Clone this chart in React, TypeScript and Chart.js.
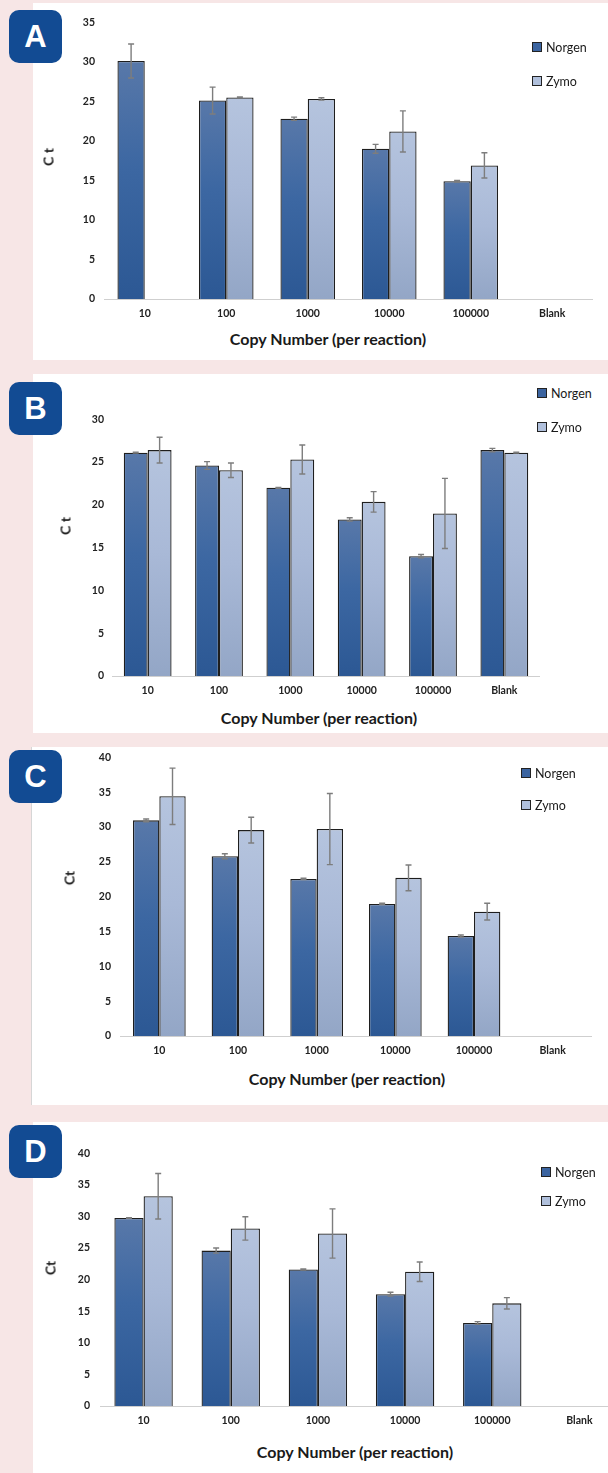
import React, { useEffect, useRef } from 'react';
import { Chart, registerables } from 'chart.js';

Chart.register(...registerables);

// ---------- data ----------
const categories = ['10', '100', '1000', '10000', '100000', 'Blank'];
const seriesNames = ['Norgen', 'Zymo'];

const aNorgen = [30.1, 25.1, 22.8, 19.0, 14.9, null];
const aNorgenErr = [2.15, 1.7, 0.2, 0.56, 0.1, null];
const aZymo = [null, 25.5, 25.3, 21.2, 16.9, null];
const aZymoErr = [null, 0.05, 0.15, 2.6, 1.6, null];

const bNorgen = [26.1, 24.6, 22.0, 18.3, 14.0, 26.4];
const bNorgenErr = [0.05, 0.45, 0.05, 0.2, 0.2, 0.2];
const bZymo = [26.4, 24.05, 25.3, 20.35, 19.0, 26.1];
const bZymoErr = [1.5, 0.85, 1.7, 1.2, 4.1, 0.05];

const cNorgen = [30.95, 25.8, 22.55, 18.95, 14.35, null];
const cNorgenErr = [0.2, 0.35, 0.1, 0.1, 0.15, null];
const cZymo = [34.4, 29.55, 29.7, 22.7, 17.85, null];
const cZymoErr = [4.05, 1.85, 5.1, 1.85, 1.2, null];

const dNorgen = [29.75, 24.6, 21.6, 17.7, 13.15, null];
const dNorgenErr = [0.05, 0.4, 0.1, 0.3, 0.2, null];
const dZymo = [33.2, 28.1, 27.3, 21.25, 16.25, null];
const dZymoErr = [3.6, 1.85, 3.9, 1.55, 0.9, null];

const yMaxA = 35;
const yMaxB = 30;
const yMaxC = 40;
const yMaxD = 40;

const xTitle = 'Copy Number (per reaction)';

// ---------- styles ----------
const PINK = '#f7e6e6';
const BADGE = '#124b93';
const NORGEN_TOP = '#5878a9';
const NORGEN_BOTTOM = '#2c5894';
const ZYMO_TOP = '#b5c4de';
const ZYMO_BOTTOM = '#93a6c6';
const FONT = 'Lato, "Open Sans", sans-serif';

const errorBarPlugin = {
  id: 'errorBars',
  afterDatasetsDraw(chart: any) {
    const ctx = chart.ctx;
    const y = chart.scales.y;
    ctx.save();
    ctx.strokeStyle = '#7d7d7d';
    ctx.lineWidth = 1.4;
    chart.data.datasets.forEach((ds: any, i: number) => {
      const meta = chart.getDatasetMeta(i);
      const errs = ds.errors || [];
      meta.data.forEach((el: any, j: number) => {
        const v = ds.data[j];
        const e = errs[j];
        if (v == null || e == null) return;
        const x = el.x;
        const top = y.getPixelForValue(v + e);
        const bot = y.getPixelForValue(v - e);
        const cap = 3;
        ctx.beginPath();
        ctx.moveTo(x, top);
        ctx.lineTo(x, bot);
        ctx.moveTo(x - cap, top);
        ctx.lineTo(x + cap, top);
        ctx.moveTo(x - cap, bot);
        ctx.lineTo(x + cap, bot);
        ctx.stroke();
      });
    });
    ctx.restore();
  },
};

function gradientFill(topColor: string, bottomColor: string) {
  return (c: any) => {
    const chart = c.chart;
    const y = chart.scales && chart.scales.y;
    const v = c.raw;
    if (c.type !== 'data' || !y || !chart.chartArea || v == null) return bottomColor;
    const t = y.getPixelForValue(v);
    const b = y.getPixelForValue(0);
    if (!isFinite(t) || !isFinite(b) || t === b) return bottomColor;
    const g = chart.ctx.createLinearGradient(0, t, 0, b);
    g.addColorStop(0, topColor);
    g.addColorStop(0.45, bottomColor === NORGEN_BOTTOM ? '#3c67a2' : '#a9b9d7');
    g.addColorStop(1, bottomColor);
    return g;
  };
}

type PanelProps = {
  letter: string;
  panel: { left: number; top: number; bottom: number; borderLeft?: boolean };
  area: { left: number; right: number; top: number; bottom: number };
  yMax: number;
  norgen: (number | null)[];
  norgenErr: (number | null)[];
  zymo: (number | null)[];
  zymoErr: (number | null)[];
  yPad: number;
  legend: { x: number; y1: number; y2: number };
  xt: { x: number; y: number };
  yt: { x: number; y: number; text: string };
  badgeTop: number;
};

function Panel(p: PanelProps) {
  const ref = useRef<HTMLCanvasElement | null>(null);
  const T = 10;
  const H = 24;
  const cTop = p.area.top - T;
  const cHeight = p.area.bottom + H - cTop;
  const cWidth = p.area.right;

  useEffect(() => {
    if (!ref.current) return;
    const tickFont = { family: FONT, size: 10.5, weight: 'bold' as const };
    const chart = new Chart(ref.current, {
      type: 'bar',
      data: {
        labels: categories,
        datasets: [
          {
            label: seriesNames[0],
            data: p.norgen,
            errors: p.norgenErr,
            backgroundColor: gradientFill(NORGEN_TOP, NORGEN_BOTTOM),
            borderColor: '#1e1e1e',
            borderWidth: 1.3,
          } as any,
          {
            label: seriesNames[1],
            data: p.zymo,
            errors: p.zymoErr,
            backgroundColor: gradientFill(ZYMO_TOP, ZYMO_BOTTOM),
            borderColor: '#1e1e1e',
            borderWidth: 1.3,
          } as any,
        ],
      },
      options: {
        responsive: false,
        maintainAspectRatio: false,
        animation: false,
        layout: { padding: { top: T, right: 0, left: 0, bottom: 0 } },
        datasets: { bar: { categoryPercentage: 0.67, barPercentage: 1 } },
        plugins: { legend: { display: false }, tooltip: { enabled: false } },
        scales: {
          x: {
            grid: { display: false, drawTicks: false },
            border: { display: true, color: '#cfcfcf', width: 1 },
            ticks: { padding: 8, font: tickFont, color: '#222222', maxRotation: 0 },
            afterFit: (s: any) => {
              s.height = H;
            },
          },
          y: {
            min: 0,
            max: p.yMax,
            grid: { display: false, drawTicks: false },
            border: { display: false },
            ticks: { stepSize: 5, padding: p.yPad, font: tickFont, color: '#222222' },
            afterFit: (s: any) => {
              s.width = p.area.left;
            },
          },
        },
      },
      plugins: [errorBarPlugin],
    } as any);
    return () => chart.destroy();
  }, []);

  const legendItem = (y: number, name: string, color: string) => (
    <div
      style={{
        position: 'absolute',
        left: p.legend.x,
        top: y - 8,
        height: 16,
        display: 'flex',
        alignItems: 'center',
        fontFamily: FONT,
        fontSize: 12.5,
        color: '#1a1a1a',
        whiteSpace: 'nowrap',
      }}
    >
      <span
        style={{
          display: 'inline-block',
          width: 8,
          height: 8,
          background: color,
          border: '1px solid #222',
          marginRight: 4,
        }}
      />
      {name}
    </div>
  );

  return (
    <>
      <div
        style={{
          position: 'absolute',
          left: p.panel.left,
          top: p.panel.top,
          width: 608 - p.panel.left,
          height: p.panel.bottom - p.panel.top,
          background: '#ffffff',
          borderLeft: p.panel.borderLeft ? '1px solid #d6d6d6' : 'none',
        }}
      />
      <canvas
        ref={ref}
        width={cWidth}
        height={cHeight}
        style={{ position: 'absolute', left: 0, top: cTop, width: cWidth, height: cHeight }}
      />
      {legendItem(p.legend.y1, seriesNames[0], '#3b64a0')}
      {legendItem(p.legend.y2, seriesNames[1], '#b0c0dc')}
      <div
        style={{
          position: 'absolute',
          left: p.xt.x,
          top: p.xt.y,
          transform: 'translate(-50%, -50%)',
          fontFamily: FONT,
          fontWeight: 'bold',
          fontSize: 16,
          color: '#1a1a1a',
          whiteSpace: 'nowrap',
        }}
      >
        {xTitle}
      </div>
      <div
        style={{
          position: 'absolute',
          left: p.yt.x,
          top: p.yt.y,
          transform: 'translate(-50%, -50%) rotate(-90deg)',
          fontFamily: FONT,
          fontWeight: 'bold',
          fontSize: 14,
          color: '#1a1a1a',
          whiteSpace: 'nowrap',
        }}
      >
        {p.yt.text}
      </div>
      <div
        style={{
          position: 'absolute',
          left: 9,
          top: p.badgeTop,
          width: 53,
          height: 53,
          borderRadius: 10,
          background: BADGE,
          color: '#ffffff',
          fontFamily: '"Liberation Sans", Arial, sans-serif',
          fontWeight: 'bold',
          fontSize: 31,
          display: 'flex',
          alignItems: 'center',
          justifyContent: 'center',
        }}
      >
        {p.letter}
      </div>
    </>
  );
}

export default function App() {
  return (
    <div
      style={{
        position: 'absolute',
        left: 0,
        top: 0,
        width: 608,
        height: 1473,
        background: PINK,
        overflow: 'hidden',
      }}
    >
      <Panel
        letter="A"
        panel={{ left: 33, top: 3, bottom: 360 }}
        area={{ left: 104, right: 593, top: 17, bottom: 299 }}
        yMax={yMaxA}
        norgen={aNorgen}
        norgenErr={aNorgenErr}
        zymo={aZymo}
        zymoErr={aZymoErr}
        yPad={9}
        legend={{ x: 532, y1: 47, y2: 81 }}
        xt={{ x: 328, y: 338 }}
        yt={{ x: 48, y: 157, text: 'C t' }}
        badgeTop={10}
      />
      <Panel
        letter="B"
        panel={{ left: 33, top: 374, bottom: 733 }}
        area={{ left: 112, right: 540, top: 415, bottom: 676 }}
        yMax={yMaxB}
        norgen={bNorgen}
        norgenErr={bNorgenErr}
        zymo={bZymo}
        zymoErr={bZymoErr}
        yPad={8}
        legend={{ x: 537, y1: 393, y2: 427 }}
        xt={{ x: 319, y: 717 }}
        yt={{ x: 65, y: 526, text: 'C t' }}
        badgeTop={382}
      />
      <Panel
        letter="C"
        panel={{ left: 31, top: 747, bottom: 1105, borderLeft: true }}
        area={{ left: 120, right: 592, top: 752, bottom: 1036 }}
        yMax={yMaxC}
        norgen={cNorgen}
        norgenErr={cNorgenErr}
        zymo={cZymo}
        zymoErr={cZymoErr}
        yPad={9}
        legend={{ x: 521, y1: 773, y2: 805 }}
        xt={{ x: 347, y: 1078 }}
        yt={{ x: 69, y: 878, text: 'Ct' }}
        badgeTop={750}
      />
      <Panel
        letter="D"
        panel={{ left: 33, top: 1122, bottom: 1473 }}
        area={{ left: 100, right: 623, top: 1147, bottom: 1406 }}
        yMax={yMaxD}
        norgen={dNorgen}
        norgenErr={dNorgenErr}
        zymo={dZymo}
        zymoErr={dZymoErr}
        yPad={10}
        legend={{ x: 541, y1: 1172, y2: 1201 }}
        xt={{ x: 355, y: 1451 }}
        yt={{ x: 50, y: 1268, text: 'Ct' }}
        badgeTop={1125}
      />
    </div>
  );
}
